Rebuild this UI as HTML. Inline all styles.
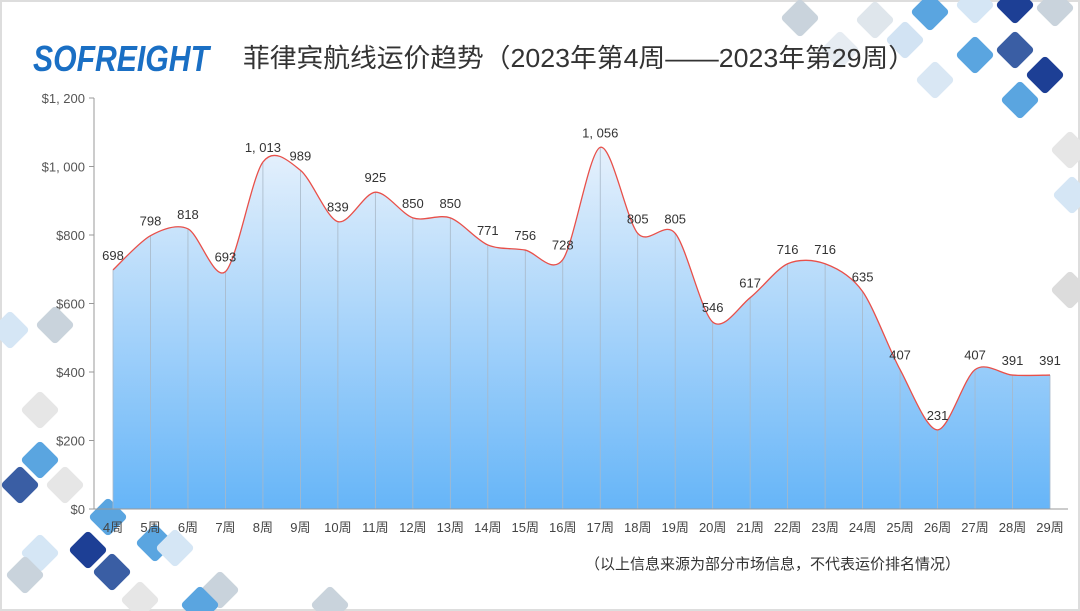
<!DOCTYPE html>
<html><head><meta charset="utf-8"><style>
body{margin:0;background:#fff;}
svg{display:block;font-family:"Liberation Sans","Noto Sans CJK SC",sans-serif;}
</style></head><body>
<svg id="s" width="1080" height="611" viewBox="0 0 1080 611" xmlns="http://www.w3.org/2000/svg">
<defs>
<linearGradient id="g" x1="0" y1="0" x2="0" y2="1">
<stop offset="0" stop-color="#e6f1fc"/><stop offset="1" stop-color="#66b5f8"/>
</linearGradient>
</defs>
<rect x="0" y="0" width="1080" height="611" fill="#fff" stroke="#ddd" stroke-width="4"/>
<g id="deco"></g>
<text x="33" y="71" font-size="36" font-weight="bold" font-style="italic" fill="#1a6fc4" textLength="176" lengthAdjust="spacingAndGlyphs">SOFREIGHT</text>
<text x="243" y="67" font-size="26" fill="#333" textLength="672" lengthAdjust="spacingAndGlyphs">菲律宾航线运价趋势（2023年第4周——2023年第29周）</text>
<g id="ch"></g>
<text x="585" y="569" font-size="15" fill="#333">（以上信息来源为部分市场信息，不代表运价排名情况）</text>
</svg>
<script>
const NS="http://www.w3.org/2000/svg";
function el(p,t,a,txt){const e=document.createElementNS(NS,t);for(const k in a)e.setAttribute(k,a[k]);if(txt!=null)e.textContent=txt;p.appendChild(e);return e;}
const deco=document.getElementById('deco');
const D=[[800,18,"#c9d3dc"],[840,50,"#e6ecf2"],[875,20,"#dfe6ec"],[930,12,"#5aa5e0"],[975,5,"#d5e6f5"],[1015,5,"#1d3f95"],[1055,8,"#c9d3dc"],[905,40,"#d2e3f3"],[975,55,"#5aa5e0"],[1015,50,"#3a5ea4"],[1045,75,"#1d3f95"],[935,80,"#d9e7f4"],[1020,100,"#5aa5e0"],[1070,150,"#e6e6e6"],[1072,195,"#d5e6f5"],[1070,290,"#dcdcdc"],
[10,330,"#d5e6f5"],[55,325,"#c9d3dc"],[40,410,"#e6e6e6"],[40,460,"#5aa5e0"],[20,485,"#3a5ea4"],[65,485,"#e6e6e6"],[108,517,"#5aa5e0"],[88,550,"#1d3f95"],[112,572,"#3a5ea4"],[155,543,"#5aa5e0"],[175,548,"#d5e6f5"],[40,553,"#d5e6f5"],[25,575,"#c9d3dc"],[220,590,"#c9d3dc"],[140,600,"#e6e6e6"],[330,605,"#c9d3dc"],[200,605,"#5aa5e0"]];
D.forEach(([x,y,c])=>el(deco,'rect',{x:x-14,y:y-14,width:28,height:28,rx:4,fill:c,transform:`rotate(45 ${x} ${y})`}));
const ch=document.getElementById('ch');
const v=[698,798,818,693,1013,989,839,925,850,850,771,756,728,1056,805,805,546,617,716,716,635,407,231,407,391,391];
const X=i=>113+i*37.48, Y=val=>509-val*411/1200;
const P=v.map((val,i)=>[X(i),Y(val)]);
let d=`M${P[0][0]},${P[0][1]}`;
for(let i=0;i<P.length-1;i++){const p0=P[Math.max(0,i-1)],p1=P[i],p2=P[i+1],p3=P[Math.min(P.length-1,i+2)];const t=0.15;
d+=` C${p1[0]+(p2[0]-p0[0])*t},${p1[1]+(p2[1]-p0[1])*t} ${p2[0]-(p3[0]-p1[0])*t},${p2[1]-(p3[1]-p1[1])*t} ${p2[0]},${p2[1]}`;}
el(ch,'path',{d:d+` L1050,509 L113,509 Z`,fill:"url(#g)"});
P.forEach(p=>el(ch,'line',{x1:p[0],y1:p[1],x2:p[0],y2:509,stroke:"#a8b8c8","stroke-width":0.8}));
el(ch,'path',{d:d,fill:"none",stroke:"#e8504a","stroke-width":1.3});
el(ch,'line',{x1:94,y1:98,x2:94,y2:509,stroke:"#bbb","stroke-width":1.5});
el(ch,'line',{x1:94,y1:509,x2:1068,y2:509,stroke:"#999","stroke-width":1});
for(let k=0;k<=6;k++){const y=509-k*68.5;el(ch,'line',{x1:89,y1:y,x2:94,y2:y,stroke:"#999"});
el(ch,'text',{x:85,y:y+5,"font-size":13,fill:"#555","text-anchor":"end"},k==0?"$0":k<5?"$"+k*200:"$1, "+(k*200-1000===0?"000":"200"));}
const fmt=x=>x>=1000?"1, "+String(x-1000).padStart(3,"0"):String(x);
v.forEach((val,i)=>{el(ch,'text',{x:X(i),y:Y(val)-10,"font-size":13,fill:"#333","text-anchor":"middle"},fmt(val));
el(ch,'text',{x:X(i),y:532,"font-size":13,fill:"#444","text-anchor":"middle"},(i+4)+"周");});
</script>
</body></html>
